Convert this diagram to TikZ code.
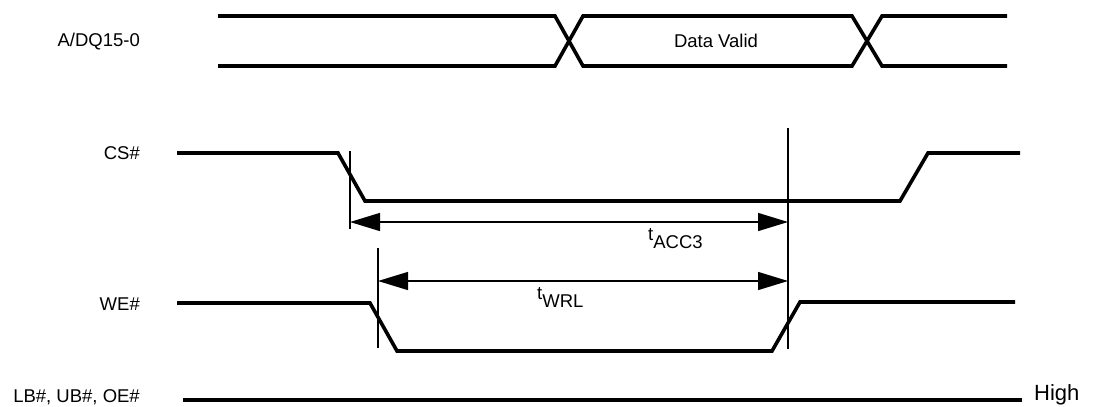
\documentclass[tikz,border=0pt]{standalone}
\usepackage{fontspec}
\setmainfont{Liberation Sans}
\usetikzlibrary{arrows.meta}
\begin{document}
\begin{tikzpicture}[x=1pt,y=-1pt,
  sig/.style={line width=3.6pt,line join=miter},
  vline/.style={line width=1.4pt},
  dim/.style={line width=1.4pt,{Triangle[length=30pt,width=18pt]}-{Triangle[length=30pt,width=18pt]}},
  lbl/.style={anchor=east,inner sep=0pt,font=\fontsize{18.5}{20}\selectfont},
  txt/.style={inner sep=0pt,font=\fontsize{18.5}{20}\selectfont}]
\useasboundingbox (0,0) rectangle (1096,407);
% labels
\node[lbl] (ladq) at (140,42) {A/DQ15-0};
\node[lbl] (lcs) at (140,153) {CS\#};
\node[lbl] (lwe) at (140,304) {WE\#};
\node[lbl] (llb) at (140,397) {LB\#, UB\#, OE\#};
\node[txt,anchor=west,font=\fontsize{22}{24}\selectfont] (lhigh) at (1034,395) {High};
\node[txt] (ldv) at (716,41) {Data Valid};
% bus
\draw[sig] (218,16) -- (555,16) -- (583,66) -- (852,66) -- (882,16) -- (1007,16);
\draw[sig] (218,66) -- (555,66) -- (583,16) -- (852,16) -- (882,66) -- (1007,66);
% CS#
\draw[sig] (177,153) -- (338,153) -- (365,201) -- (900,201) -- (928,153) -- (1020,153);
% WE#
\draw[sig] (177,303) -- (370,303) -- (397,351) -- (772,351) -- (800,302) -- (1015,302);
% LB# UB# OE#
\draw[sig] (183,400) -- (1022,400);
% reference lines
\coordinate (c1t) at (350,151);
\coordinate (c1b) at (350,229);
\coordinate (c2t) at (378,248);
\coordinate (c2b) at (378,348);
\coordinate (c3t) at (788,128);
\coordinate (c3b) at (788,349);
\draw[vline] (c1t) -- (c1b);
\draw[vline] (c2t) -- (c2b);
\draw[vline] (c3t) -- (c3b);
% dimensions
\coordinate (a1l) at (350,222);
\coordinate (a1r) at (788,222);
\coordinate (a2l) at (378,281);
\coordinate (a2r) at (788,281);
\draw[dim] (a1l) -- (a1r);
\draw[dim] (a2l) -- (a2r);
\node[txt,anchor=base west] (tacc) at (648,248) {\raisebox{8pt}{t}ACC3};
\node[txt,anchor=base west] (twrl) at (537,307) {\raisebox{8pt}{t}WRL};
\end{tikzpicture}
\end{document}
